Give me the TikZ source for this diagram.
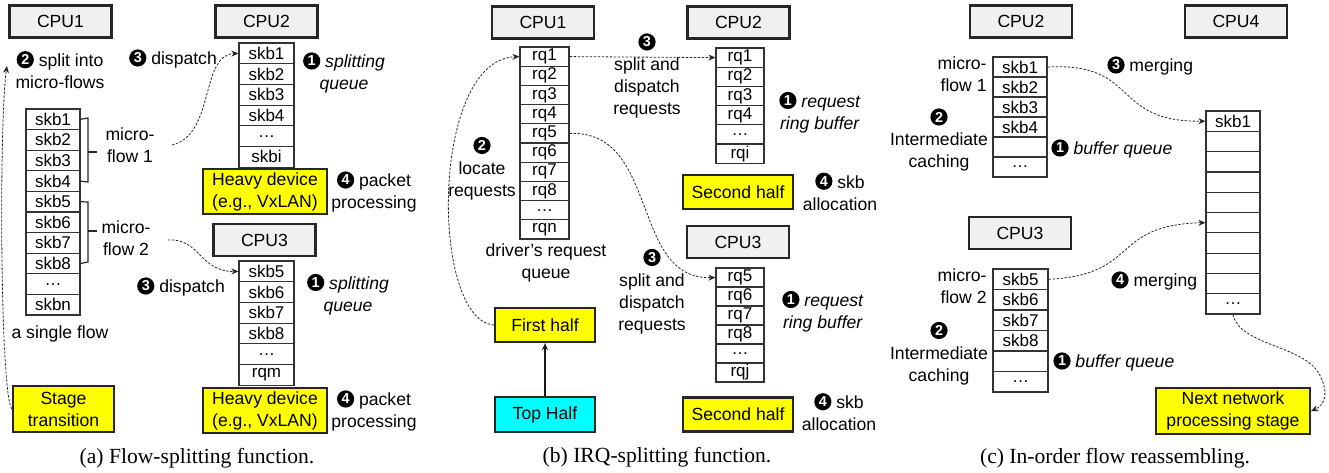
\documentclass[tikz,border=0pt]{standalone}
\usepackage{fontspec}
\setmainfont{Liberation Sans}
\newfontfamily\capfont{Liberation Serif}
\usetikzlibrary{arrows.meta,calc}
\definecolor{ybright}{RGB}{255,255,0}
\definecolor{aqua}{RGB}{0,255,255}
\definecolor{cpugray}{RGB}{240,240,240}
\newcommand\nb[1]{\tikz[baseline=-0.75ex]\node[circle,fill=black,inner sep=0pt,minimum size=8.6pt,text=white,font=\fontsize{7.2}{7.2}\selectfont\bfseries]{#1};}
\newcommand\mkqueue[6]{%
  \foreach \t [count=\i] in {#6} {
    \node[qcell, minimum width=#3*0.5pt, minimum height=#5*0.5pt] (#1\i) at ({#2+#3/2},{#4+#5*\i-#5/2}) {\t};
  }}
\begin{document}
\begin{tikzpicture}[x=0.5pt,y=-0.5pt,
  every node/.style={font=\fontsize{8.8}{11}\selectfont, inner sep=0pt},
  cpu/.style={draw=black!85, line width=1.1pt, fill=cpugray, minimum width=51pt, minimum height=16pt},
  ybox/.style={draw=black!85, line width=1.1pt, fill=ybright, align=center},
  cbox/.style={draw=black!85, line width=1.1pt, fill=aqua, align=center},
  qcell/.style={draw=black!80, line width=0.6pt, fill=white, font=\fontsize{8.5}{10}\selectfont},
  lab/.style={align=center},
  dasharrow/.style={draw=black!85, line width=0.4pt, dash pattern=on 1.2pt off 0.8pt, -{Stealth[length=3.5pt,width=3pt]}},
  solidarrow/.style={draw=black!90, line width=0.6pt, -{Stealth[length=3.5pt,width=3pt]}},
  capt/.style={font=\capfont\fontsize{10.8}{13}\selectfont}
]
\useasboundingbox (0,0) rectangle (1329,472);

% ================= (a) =================
\node[cpu] (a-cpu1) at (60.5,21.5) {CPU1};
\node[cpu] (a-cpu2) at (266.5,21.5) {CPU2};
\node[cpu] (a-cpu3) at (264.5,240) {CPU3};

\mkqueue{a1q}{26}{54}{109}{20.6}{skb1,skb2,skb3,skb4,skb5,skb6,skb7,skb8,\dots,skbn}
\mkqueue{a2q}{239}{55}{43}{20.7}{skb1,skb2,skb3,skb4,\dots,skbi}
\mkqueue{a3q}{239}{55}{261}{20.7}{skb5,skb6,skb7,skb8,\dots,rqm}

\node[ybox, minimum width=62pt, minimum height=22.5pt] (a-heavy1) at (265,191.5) {Heavy device\\(e.g., VxLAN)};
\node[ybox, minimum width=62pt, minimum height=22.5pt] (a-heavy2) at (265,410.5) {Heavy device\\(e.g., VxLAN)};
\node[ybox, minimum width=50.5pt, minimum height=23pt] (a-stage) at (63.5,409) {Stage\\transition};

\node[lab] (a-split) at (60,70) {\nb{2} split into\\micro-flows};
\node[lab] (a-disp1) at (173,59) {\nb{3} dispatch};
\node[lab] (a-sq1) at (344,73) {\nb{1} \textit{splitting}\\\textit{queue}};
\node[lab] (a-pp1) at (374,192) {\nb{4} packet\\processing};
\node[lab] (a-mf1) at (130,145) {micro-\\flow 1};
\node[lab] (a-mf2) at (126,238) {micro-\\flow 2};
\node[lab] (a-single) at (60,334) {a single flow};
\node[lab] (a-disp2) at (181,287) {\nb{3} dispatch};
\node[lab] (a-sq2) at (348,294.5) {\nb{1} \textit{splitting}\\\textit{queue}};
\node[lab] (a-pp2) at (374,411) {\nb{4} packet\\processing};

% brackets
\draw[line width=0.6pt, black!85] (a1q1.east) -- (88,118) -- (88,182) -- (a1q4.east);
\draw[line width=0.6pt, black!85] (88,152) -- (97,152);
\draw[line width=0.6pt, black!85] (a1q5.east) -- (88,202) -- (88,262) -- (a1q8.east);
\draw[line width=0.6pt, black!85] (88,231) -- (97,231);

\coordinate (a-d1s) at (172,145);
\coordinate (a-d2s) at (168,240);
\coordinate (a-up) at (7,66);
\draw[dasharrow] (a-d1s) .. controls (215,135) and (200,55) .. (a2q1.west);
\draw[dasharrow] (a-d2s) .. controls (200,238) and (200,272) .. (a3q1.west);
\draw[dasharrow] (a-stage.west) .. controls (0,395) and (-1,120) .. (a-up);

\node[capt] (a-cap) at (197,458) {(a) Flow-splitting function.};

% ================= (b) =================
\node[cpu] (b-cpu1) at (543,22.5) {CPU1};
\node[cpu] (b-cpu2) at (738.5,22.5) {CPU2};
\node[cpu] (b-cpu3) at (738,242) {CPU3};

\mkqueue{b1q}{520}{49}{47}{19.2}{rq1,rq2,rq3,rq4,rq5,rq6,rq7,rq8,\dots,rqn}
\mkqueue{b2q}{716}{48}{48}{19.2}{rq1,rq2,rq3,rq4,\dots,rqi}
\mkqueue{b3q}{716}{48}{268}{19}{rq5,rq6,rq7,rq8,\dots,rqj}

\node[ybox, minimum width=55pt, minimum height=17pt] (b-second1) at (738,192) {Second half};
\node[ybox, minimum width=55pt, minimum height=17pt] (b-second2) at (738,414.5) {Second half};
\node[ybox, minimum width=50pt, minimum height=17pt] (b-first) at (545,325) {First half};
\node[cbox, minimum width=50pt, minimum height=17.5pt] (b-top) at (545,414.5) {Top Half};

\node[lab] (b-sd1) at (647,76) {\nb{3}\\split and\\dispatch\\requests};
\node[lab] (b-rb1) at (820,112.5) {\nb{1} \textit{request}\\\textit{ring buffer}};
\node[lab] (b-sa1) at (840,191.5) {\nb{4} skb\\allocation};
\node[lab] (b-loc) at (482,168.5) {\nb{2}\\locate\\requests};
\node[lab] (b-drv) at (546,262.5) {driver’s request\\queue};
\node[lab] (b-sd2) at (652,291.5) {\nb{3}\\split and\\dispatch\\requests};
\node[lab] (b-rb2) at (823,311.5) {\nb{1} \textit{request}\\\textit{ring buffer}};
\node[lab] (b-sa2) at (839,412) {\nb{4} skb\\allocation};

\draw[dasharrow] (b1q1.east) -- (b2q1.west);
\draw[dasharrow] (b1q5.east) .. controls (660,130) and (630,280) .. (b3q1.west);
\draw[dasharrow] (b-first.west) .. controls (430,320) and (430,60) .. (b1q1.west);
\draw[solidarrow] (b-top.north) -- (b-first.south);

\node[capt] (b-cap) at (657,457) {(b) IRQ-splitting function.};

% ================= (c) =================
\node[cpu] (c-cpu2) at (1021,21.5) {CPU2};
\node[cpu] (c-cpu4) at (1236,21.5) {CPU4};
\node[cpu] (c-cpu3) at (1020,233) {CPU3};

\mkqueue{c1q}{993}{54}{57}{20}{skb1,skb2,skb3,skb4,{},\dots}
\mkqueue{c3q}{993}{55}{269}{20.5}{skb5,skb6,skb7,skb8,{},\dots}
\mkqueue{c4q}{1206}{54}{111}{20.3}{skb1,{},{},{},{},{},{},{},{},\dots}

\node[ybox, minimum width=77pt, minimum height=23pt] (c-next) at (1233,411) {Next network\\processing stage};

\node[lab, anchor=east, align=right] (c-mf1) at (987,74) {micro-\\flow 1};
\node[lab] (c-ic1) at (939,140) {\nb{2}\\Intermediate\\caching};
\node[lab, anchor=west] (c-bq1) at (1051,149) {\nb{1} \textit{buffer queue}};
\node[lab, anchor=west] (c-m1) at (1107,66) {\nb{3} merging};
\node[lab, anchor=east, align=right] (c-mf2) at (987,286.5) {micro-\\flow 2};
\node[lab] (c-ic2) at (939,353.5) {\nb{2}\\Intermediate\\caching};
\node[lab, anchor=west] (c-bq2) at (1053,362) {\nb{1} \textit{buffer queue}};
\node[lab, anchor=west] (c-m2) at (1111,281) {\nb{4} merging};

\draw[dasharrow] (c1q1.east) .. controls (1140,62) and (1110,122) .. (c4q1.west);
\draw[dasharrow] (c3q1.east) .. controls (1140,275) and (1110,225) .. (c4q6.west);
\draw[dasharrow] (c4q10.south) .. controls (1240,345) and (1300,345) .. (1318,372) .. controls (1330,392) and (1325,405) .. (c-next.east);

\node[capt] (c-cap) at (1115,458) {(c) In-order flow reassembling.};
\end{tikzpicture}
\end{document}
